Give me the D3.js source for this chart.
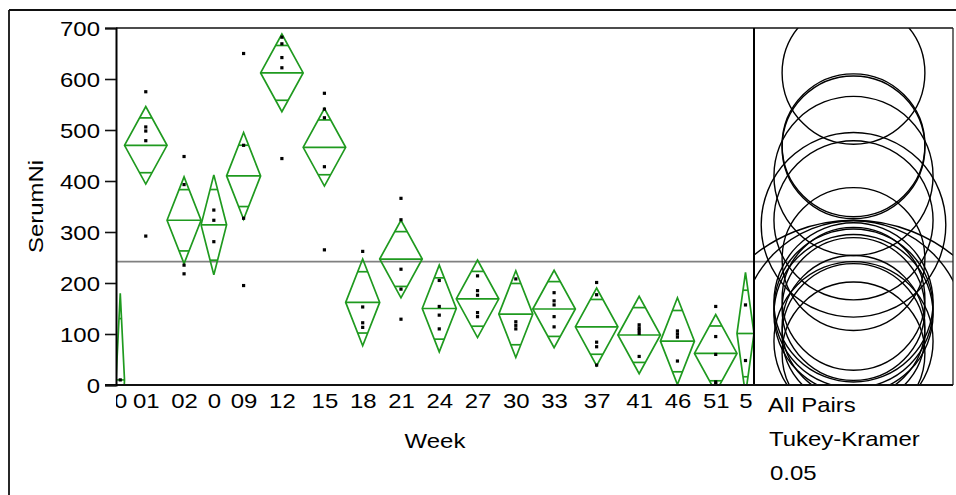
<!DOCTYPE html>
<html><head><meta charset="utf-8">
<script src="https://cdn.jsdelivr.net/npm/d3@7"></script>
<style>
body{margin:0;background:#fff}
text{font-family:"Liberation Sans",Arial,sans-serif;font-size:21px;fill:#000}
</style>
</head><body>
<svg id="chart" width="956" height="495"></svg>
<script>
// ---- data ----
const weeks = ["0","01","02","0","09","12","15","18","21","24","27","30","33","37","41","46","51","5"];
const groupN = [1,5,4,3,4,5,5,4,5,4,5,4,5,5,5,4,5,2];
const groupMean = [10,470,323,314,410,612,466,162,247,150,169,139,149,114,98,86,62,101];
const ciHalf = [170,76,85,98,85,76,76,85,76,85,76,85,76,76,76,85,76,120];
const circleRadius = [313,140,156,181,156,140,140,156,140,156,140,156,140,140,140,156,140,221];
const serumNi = [
  [10],
  [575,506,498,479,292],
  [448,393,235,218],
  [343,323,281],
  [650,470,327,195],
  [682,669,642,622,444],
  [572,541,524,428,265],
  [262,153,122,113],
  [366,324,227,188,129],
  [205,154,137,110],
  [214,185,176,142,134],
  [208,124,117,110],
  [181,165,157,134,114],
  [201,177,84,75,39],
  [118,112,107,101,56],
  [106,100,94,47],
  [154,95,60,6,2],
  [157,48]
];
const grandMean = 242;
const yTicks = [0,100,200,300,400,500,600,700];
const yTitle = "SerumNi";
const xTitle = "Week";
const comparisonLabels = ["All Pairs","Tukey-Kramer","0.05"];

// ---- layout ----
const L = 116, R = 754, T = 28, B = 385, PR = 953;
const green = "#1f9a1f";
const svg = d3.select("#chart");
const totalN = d3.sum(groupN);
const x = d3.scaleLinear().domain([0,totalN]).range([L,R]);
const y = d3.scaleLinear().domain([0,700]).range([B,T]);
const cumBefore = groupN.map((n,i)=> d3.sum(groupN.slice(0,i)));
const centerCount = groupN.map((n,i)=> cumBefore[i] + n/2);

function stretch(sel,k){
  sel.each(function(){
    const len=this.getComputedTextLength();
    this.setAttribute("textLength", len*k);
    this.setAttribute("lengthAdjust","spacingAndGlyphs");
  });
}

const defs = svg.append("defs");
defs.append("clipPath").attr("id","plotClip").append("rect")
  .attr("x",L).attr("y",T).attr("width",R-L).attr("height",B-T);
defs.append("clipPath").attr("id","circClip").append("rect")
  .attr("x",R).attr("y",T).attr("width",PR-R).attr("height",B-T);
defs.append("clipPath").attr("id","xlabClip").append("rect")
  .attr("x",L).attr("y",B).attr("width",PR-L).attr("height",60);

// outer frame
svg.append("line").attr("x1",9).attr("x2",9).attr("y1",10).attr("y2",500).attr("stroke","#111").attr("stroke-width",1.8);
svg.append("line").attr("x1",9).attr("x2",960).attr("y1",10).attr("y2",10).attr("stroke","#111").attr("stroke-width",1.8);

// grand mean line
svg.append("line").attr("x1",L).attr("x2",PR).attr("y1",y(grandMean)).attr("y2",y(grandMean))
  .attr("stroke","#808080").attr("stroke-width",1.8);

// diamonds
const plot = svg.append("g").attr("clip-path","url(#plotClip)");
const k = Math.SQRT1_2;
groupN.forEach((n,i)=>{
  const cx = x(centerCount[i]);
  const hw = (x(n)-x(0))/2;
  const m = groupMean[i], c = ciHalf[i];
  const g = plot.append("g").attr("fill","none").attr("stroke",green).attr("stroke-width",1.7);
  g.append("path").attr("d", d3.line()([[cx-hw,y(m)],[cx,y(m+c)],[cx+hw,y(m)],[cx,y(m-c)],[cx-hw,y(m)]]) + "Z")
    .attr("stroke-linejoin","miter");
  g.append("line").attr("x1",cx-hw).attr("x2",cx+hw).attr("y1",y(m)).attr("y2",y(m));
  const ow = hw*(1-k);
  [m + c*k, m - c*k].forEach(v=>{
    g.append("line").attr("x1",cx-ow).attr("x2",cx+ow).attr("y1",y(v)).attr("y2",y(v));
  });
});
// points
groupN.forEach((n,i)=>{
  const cx = x(centerCount[i]);
  plot.selectAll(null).data(serumNi[i]).enter().append("rect")
    .attr("x",cx-1.6).attr("y",d=>y(d)-1.6).attr("width",3.2).attr("height",3.2).attr("fill","#000");
});

// comparison circles
const circCx = (R+PR)/2;
svg.append("g").attr("clip-path","url(#circClip)")
  .selectAll("circle").data(groupMean).enter().append("circle")
  .attr("cx",circCx).attr("cy",d=>y(d))
  .attr("r",(d,i)=> y(0)-y(circleRadius[i]))
  .attr("fill","none").attr("stroke","#000").attr("stroke-width",1.4);

// frame of plot and circle panel
svg.append("line").attr("x1",L).attr("x2",PR).attr("y1",T).attr("y2",T).attr("stroke","#111").attr("stroke-width",1.6);
svg.append("line").attr("x1",R).attr("x2",R).attr("y1",T).attr("y2",B).attr("stroke","#000").attr("stroke-width",2);
svg.append("line").attr("x1",PR).attr("x2",PR).attr("y1",T).attr("y2",B).attr("stroke","#222").attr("stroke-width",1.3);
svg.append("line").attr("x1",L-11).attr("x2",PR).attr("y1",B).attr("y2",B).attr("stroke","#111").attr("stroke-width",1.8);

// y axis
const yAxis = svg.append("g").attr("transform",`translate(${L},0)`)
  .call(d3.axisLeft(y).tickValues(yTicks).tickSize(11).tickPadding(5).tickFormat(d3.format("d")));
yAxis.select(".domain").attr("stroke","#000").attr("stroke-width",2);
yAxis.selectAll(".tick line").attr("stroke","#111").attr("stroke-width",1.6);
yAxis.selectAll("text").attr("dy","0.35em");
stretch(yAxis.selectAll("text"),1.14);

// x axis
const xAxis = svg.append("g").attr("transform",`translate(0,${B})`).attr("clip-path","url(#xlabClip)")
  .call(d3.axisBottom(x).tickValues(centerCount).tickSize(0).tickPadding(8).tickFormat((d,i)=>weeks[i]));
xAxis.select(".domain").remove();
xAxis.attr("transform",null);
xAxis.selectAll(".tick").attr("transform",function(){ return this.getAttribute("transform").replace(/,0\)/, `,${B})`); });
stretch(xAxis.selectAll("text"),1.14);

// titles
const xt = svg.append("text").attr("x",(L+R)/2).attr("y",448).attr("text-anchor","middle").text(xTitle);
stretch(xt,1.14);
const yt = svg.append("text").attr("transform",`translate(43,${(T+B)/2}) rotate(-90)`).attr("text-anchor","middle").text(yTitle);
stretch(yt,1.14);

// comparison legend text
const cl = svg.selectAll(".cl").data(comparisonLabels).enter().append("text")
  .attr("x",(d,i)=>[768,769,770][i]).attr("y",(d,i)=>[412,446,480][i]).text(d=>d);
stretch(cl,1.14);
</script>
</body></html>
